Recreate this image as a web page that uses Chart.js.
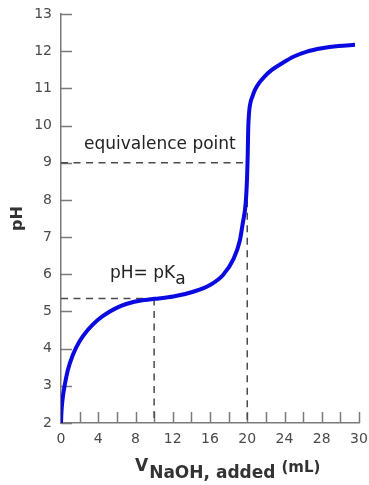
<!DOCTYPE html>
<html>
<head>
<meta charset="utf-8">
<script src="https://cdn.jsdelivr.net/npm/chart.js@4/dist/chart.umd.min.js"></script>
<style>
  html, body { margin: 0; padding: 0; background: #ffffff; }
  #wrap { position: relative; width: 369px; height: 485px; }
</style>
</head>
<body>
<div id="wrap"><canvas id="c" width="369" height="485"></canvas></div>
<script>
// ---- data ----
const volumeML = [0, 0.05, 0.15, 0.37, 0.73, 1.27, 1.98, 2.87, 3.94, 5.2, 6.45, 7.87, 9.0, 10, 12.06, 14.2, 16.0, 17.4, 18.5, 19.2, 19.5, 19.83, 19.98, 20.05, 20.1, 20.19, 20.33, 20.55, 20.83, 21.26, 21.83, 22.6, 23.7, 24.95, 26.4, 28.0, 29.8, 31.57];
const pHValues = [2.0, 2.3, 2.6, 2.98, 3.42, 3.83, 4.19, 4.5, 4.77, 4.99, 5.15, 5.26, 5.31, 5.34, 5.4, 5.53, 5.71, 5.98, 6.4, 6.9, 7.35, 7.91, 8.6, 9.2, 9.88, 10.33, 10.6, 10.78, 10.96, 11.14, 11.31, 11.49, 11.67, 11.85, 11.99, 12.08, 12.14, 12.17];

const equivalenceVolume = 20;
const equivalencePH = 9;
const halfEqVolume = 10;
const pKa = 5.35;

const xTickLabels = ['0', '', '4', '', '8', '', '12', '', '16', '', '20', '', '24', '', '28', '', '30'];
const yTickLabels = ['2', '3', '4', '5', '6', '7', '8', '9', '10', '11', '12', '13'];

const eqLabel = 'equivalence point';
const pkaLabelMain = 'pH= pK';
const pkaLabelSub = 'a';
const xTitleMain = 'V';
const xTitleSub = 'NaOH, added';
const xTitleSup = '(mL)';
const yTitle = 'pH';

// ---- build ----
const curve = volumeML.map((v, i) => ({ x: v, y: pHValues[i] }));
const FONT = "'DejaVu Sans'";
const dashStyle = { borderColor: '#4a4a4a', borderWidth: 1.5, borderDash: [7, 5.5], pointRadius: 0, fill: false, order: 2, tension: 0 };

const innerTicks = {
  id: 'innerTicks',
  beforeDatasetsDraw(chart) {
    const { ctx, chartArea, scales } = chart;
    const len = 11;
    ctx.save();
    ctx.strokeStyle = '#7a7a7a';
    ctx.lineWidth = 1.5;
    scales.y.ticks.forEach(t => {
      const py = Math.round(scales.y.getPixelForValue(t.value)) + 0.5;
      ctx.beginPath();
      ctx.moveTo(chartArea.left, py);
      ctx.lineTo(chartArea.left + len, py);
      ctx.stroke();
    });
    scales.x.ticks.forEach(t => {
      const px = Math.round(scales.x.getPixelForValue(t.value)) + 0.5;
      ctx.beginPath();
      ctx.moveTo(px, chartArea.bottom);
      ctx.lineTo(px, chartArea.bottom - len);
      ctx.stroke();
    });
    ctx.restore();
  }
};

const texts = {
  id: 'texts',
  afterDraw(chart) {
    const { ctx, chartArea, scales } = chart;
    ctx.save();
    ctx.fillStyle = '#222222';
    ctx.textBaseline = 'alphabetic';
    ctx.textAlign = 'left';
    // equivalence point label
    ctx.font = '17px ' + FONT;
    ctx.fillText(eqLabel, scales.x.getPixelForValue(2.47), scales.y.getPixelForValue(9.37));
    // pH = pKa label
    const px = scales.x.getPixelForValue(5.26);
    const py = scales.y.getPixelForValue(5.90);
    ctx.fillText(pkaLabelMain, px, py);
    const w = ctx.measureText(pkaLabelMain).width;
    ctx.fillText(pkaLabelSub, px + w, py + 6);
    // x axis title
    ctx.fillStyle = '#333333';
    let x = chartArea.left + 74;
    ctx.font = 'bold 17px ' + FONT;
    ctx.fillText(xTitleMain, x, 471);
    x += ctx.measureText(xTitleMain).width + 1;
    ctx.fillText(xTitleSub, x, 478);
    x += ctx.measureText(xTitleSub).width + 6;
    ctx.font = 'bold 15px ' + FONT;
    ctx.fillText(xTitleSup, x, 472);
    ctx.restore();
  }
};

new Chart(document.getElementById('c'), {
  type: 'line',
  data: {
    datasets: [
      { data: curve, borderColor: '#0a0ae0', borderWidth: 4, pointRadius: 0, fill: false, cubicInterpolationMode: 'monotone', order: 0 },
      Object.assign({ data: [{ x: 0, y: equivalencePH }, { x: equivalenceVolume, y: equivalencePH }] }, dashStyle),
      Object.assign({ data: [{ x: equivalenceVolume, y: equivalencePH }, { x: equivalenceVolume, y: 2 }] }, dashStyle),
      Object.assign({ data: [{ x: 0, y: pKa }, { x: halfEqVolume, y: pKa }] }, dashStyle),
      Object.assign({ data: [{ x: halfEqVolume, y: pKa }, { x: halfEqVolume, y: 2 }] }, dashStyle)
    ]
  },
  options: {
    responsive: false,
    devicePixelRatio: 1,
    animation: false,
    layout: { padding: { top: 14, right: 10, bottom: 0, left: 0 } },
    plugins: { legend: { display: false }, tooltip: { enabled: false } },
    scales: {
      x: {
        type: 'linear',
        min: 0, max: 32,
        grid: { drawOnChartArea: false, drawTicks: false },
        border: { display: true, color: '#7a7a7a', width: 1.5 },
        ticks: {
          stepSize: 2, autoSkip: false, maxRotation: 0, padding: 8,
          color: '#4a4a4a', font: { family: 'DejaVu Sans', size: 14 },
          callback: (v, i) => xTickLabels[i]
        },
        afterFit: s => { s.height = 62; s.paddingLeft = 0; s.paddingRight = 0; }
      },
      y: {
        type: 'linear',
        min: 2, max: 13,
        grid: { drawOnChartArea: false, drawTicks: false },
        border: { display: true, color: '#7a7a7a', width: 1.5 },
        ticks: {
          stepSize: 1, padding: 9,
          color: '#4a4a4a', font: { family: 'DejaVu Sans', size: 14 },
          callback: (v, i) => yTickLabels[i]
        },
        title: { display: true, text: yTitle, color: '#333333', font: { family: 'DejaVu Sans', size: 16, weight: 'bold' }, padding: { top: 8, bottom: 0 } },
        afterFit: s => { s.width = 61; s.paddingTop = 0; s.paddingBottom = 0; }
      }
    }
  },
  plugins: [innerTicks, texts]
});
</script>
</body>
</html>
